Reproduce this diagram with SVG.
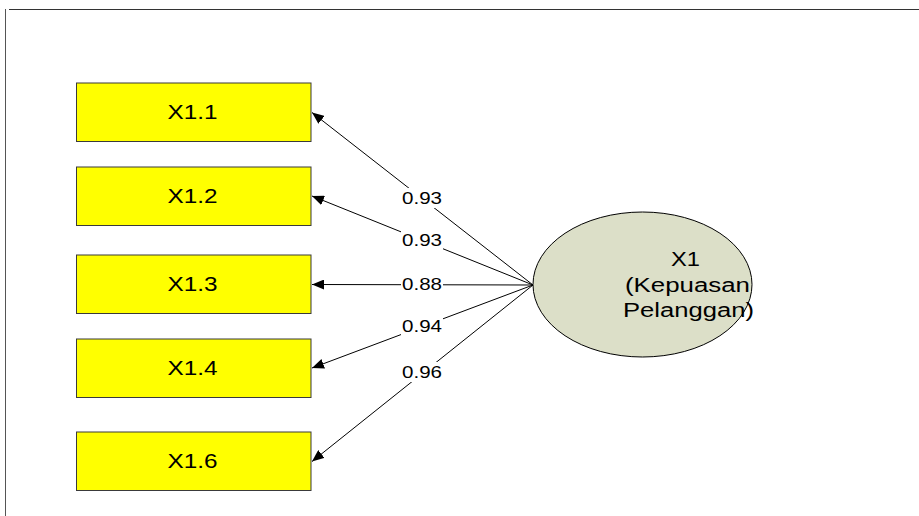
<svg xmlns="http://www.w3.org/2000/svg" width="919" height="516" viewBox="0 0 919 516">
<style>
.box{fill:#FFFF00;stroke:#3a3a3a;stroke-width:1}
.bt{font-family:"Liberation Sans",Arial,sans-serif;font-size:21px;fill:#000;text-anchor:middle}
.lbl{font-family:"Liberation Sans",Arial,sans-serif;font-size:16.5px;fill:#000;text-anchor:middle}
.et{font-family:"Liberation Sans",Arial,sans-serif;font-size:19.5px;fill:#000;text-anchor:middle}
.conn{stroke:#000;stroke-width:1;fill:none;marker-end:url(#ah)}
.lb{fill:#fff}
</style>
<defs>
<marker id="ah" viewBox="0 0 12 10" refX="12" refY="5" markerWidth="12" markerHeight="10" markerUnits="userSpaceOnUse" orient="auto">
<path d="M0,0 L12,5 L0,10 Z" fill="#000"/>
</marker>
</defs>
<rect width="919" height="516" fill="#fff"/>
<line x1="9" y1="9.5" x2="919" y2="9.5" stroke="#333" stroke-width="1.2"/>
<line x1="5.5" y1="9" x2="5.5" y2="516" stroke="#555" stroke-width="1"/>
<g id="connectors">
<line class="conn" x1="533" y1="285" x2="312" y2="112.5"/>
<line class="conn" x1="533" y1="285" x2="312" y2="196"/>
<line class="conn" x1="533" y1="285" x2="312" y2="284.5"/>
<line class="conn" x1="533" y1="285" x2="312" y2="368"/>
<line class="conn" x1="533" y1="285" x2="312" y2="461.5"/>
<rect class="lb" x="401" y="188" width="42" height="20"/>
<rect class="lb" x="401" y="231" width="42" height="20"/>
<rect class="lb" x="401" y="275" width="42" height="19"/>
<rect class="lb" x="401" y="316" width="42" height="20"/>
<rect class="lb" x="401" y="362" width="42" height="20"/>
<text class="lbl" x="422" y="204" textLength="40" lengthAdjust="spacingAndGlyphs">0.93</text>
<text class="lbl" x="422" y="246" textLength="40" lengthAdjust="spacingAndGlyphs">0.93</text>
<text class="lbl" x="422" y="290" textLength="40" lengthAdjust="spacingAndGlyphs">0.88</text>
<text class="lbl" x="422" y="331.5" textLength="40" lengthAdjust="spacingAndGlyphs">0.94</text>
<text class="lbl" x="422" y="377.5" textLength="40" lengthAdjust="spacingAndGlyphs">0.96</text>
</g>
<g id="X1.1">
<rect class="box" x="76.5" y="83" width="234.5" height="58.5"/>
<text class="bt" x="192.5" y="118.5" textLength="50" lengthAdjust="spacingAndGlyphs">X1.1</text>
</g>
<g id="X1.2">
<rect class="box" x="76.5" y="167" width="234.5" height="58.5"/>
<text class="bt" x="192.5" y="202.5" textLength="50" lengthAdjust="spacingAndGlyphs">X1.2</text>
</g>
<g id="X1.3">
<rect class="box" x="76.5" y="255" width="234.5" height="58.5"/>
<text class="bt" x="192.5" y="290.5" textLength="50" lengthAdjust="spacingAndGlyphs">X1.3</text>
</g>
<g id="X1.4">
<rect class="box" x="76.5" y="339" width="234.5" height="58.5"/>
<text class="bt" x="192.5" y="374.5" textLength="50" lengthAdjust="spacingAndGlyphs">X1.4</text>
</g>
<g id="X1.6">
<rect class="box" x="76.5" y="432" width="234.5" height="58.5"/>
<text class="bt" x="192.5" y="467.5" textLength="50" lengthAdjust="spacingAndGlyphs">X1.6</text>
</g>
<g id="X1">
<ellipse cx="642.5" cy="284.5" rx="109.5" ry="72.5" fill="#DCDFC8" stroke="#000" stroke-width="1"/>
<text class="et" x="685.5" y="266" textLength="29" lengthAdjust="spacingAndGlyphs">X1</text>
<text class="et" x="687.5" y="291.5" textLength="125" lengthAdjust="spacingAndGlyphs">(Kepuasan</text>
<text class="et" x="688.5" y="317" textLength="131" lengthAdjust="spacingAndGlyphs">Pelanggan)</text>
</g>
</svg>
